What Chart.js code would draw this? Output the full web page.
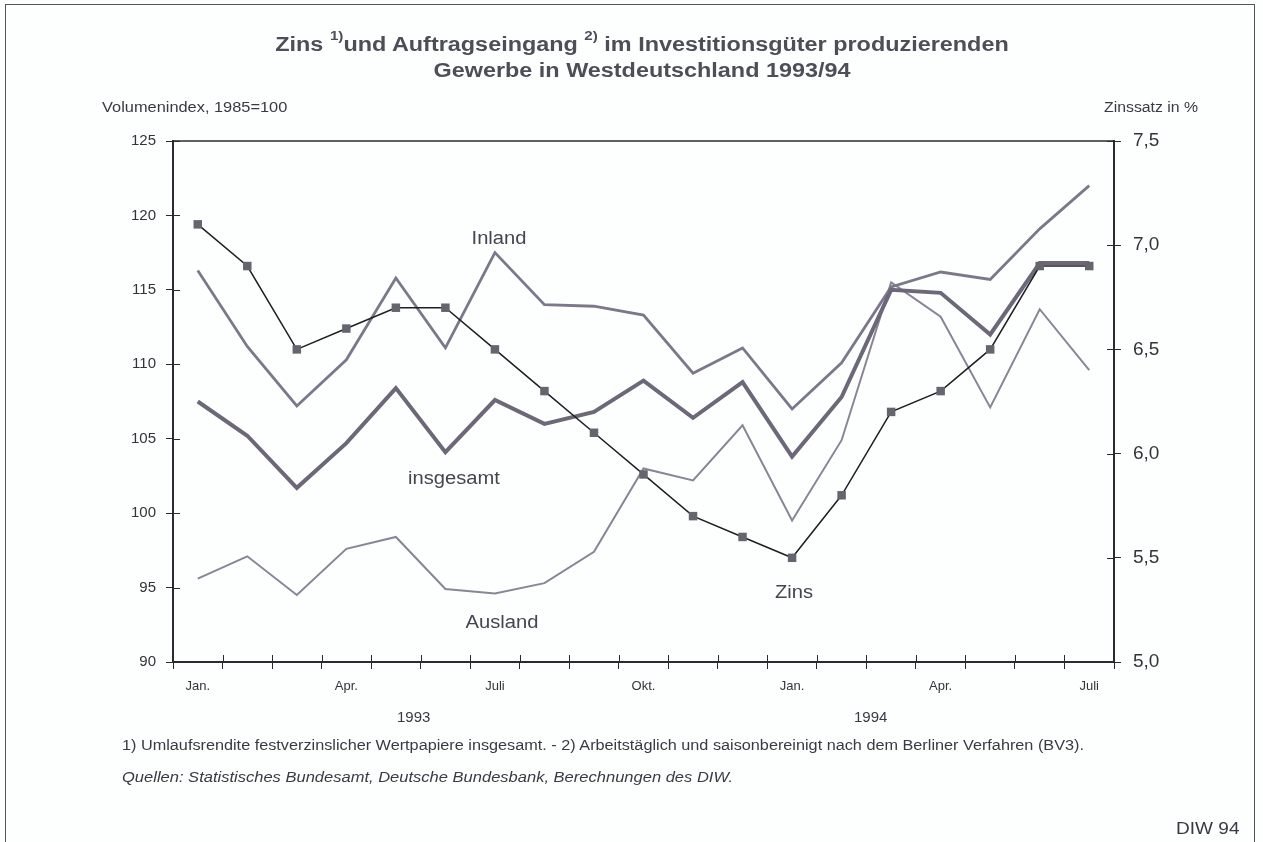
<!DOCTYPE html>
<html lang="de">
<head>
<meta charset="utf-8">
<title>Zins und Auftragseingang 1993/94</title>
<script src="https://cdn.jsdelivr.net/npm/chart.js@4.4.1/dist/chart.umd.min.js"></script>
<style>
  html, body { margin: 0; padding: 0; background: #fdfefe; }
  body { width: 1263px; height: 842px; position: relative; overflow: hidden;
         font-family: "Liberation Sans", Arial, sans-serif; color: #3a3a44; }
  #frame { position: absolute; left: 5px; top: 4px; width: 1248px; height: 860px;
           border: 1px solid #555; border-bottom: none; }
  #chart { position: absolute; left: 0; top: 0; }
  .txt { position: absolute; white-space: nowrap; }
  .wide { transform: scaleX(1.17); transform-origin: left center; }
  .title { left: 0; width: 1284px; text-align: center; font-weight: bold; font-size: 20px; color: #4e4e58;
           transform: scaleX(1.17); transform-origin: 642px center; }
  .title sup { font-size: 13px; position: relative; top: -3px; }
  .lbl { font-size: 18px; color: #45454f; transform: translate(-50%, -50%) scaleX(1.12); }
</style>
</head>
<body>
<div id="frame"></div>
<canvas id="chart" width="1263" height="842"></canvas>

<div class="txt title" style="top:31px">Zins <sup>1)</sup>und Auftragseingang <sup>2)</sup> im Investitionsgüter produzierenden</div>
<div class="txt title" style="top:59px">Gewerbe in Westdeutschland 1993/94</div>
<div class="txt wide" style="left:102px; top:99px; font-size:14px;">Volumenindex, 1985=100</div>
<div class="txt" style="left:1104px; top:99px; font-size:14px; transform:scaleX(1.13); transform-origin:left center;">Zinssatz in %</div>

<div class="txt lbl" style="left:499px; top:238px;">Inland</div>
<div class="txt lbl" style="left:454px; top:478px;">insgesamt</div>
<div class="txt lbl" style="left:502px; top:622px;">Ausland</div>
<div class="txt lbl" style="left:794px; top:592px;">Zins</div>

<div class="txt" style="left:397px; top:708px; font-size:15px;">1993</div>
<div class="txt" style="left:854px; top:708px; font-size:15px;">1994</div>

<div class="txt wide" style="left:122px; top:737px; font-size:14px; transform:scaleX(1.16);">1) Umlaufsrendite festverzinslicher Wertpapiere insgesamt. - 2) Arbeitstäglich und saisonbereinigt nach dem Berliner Verfahren (BV3).</div>
<div class="txt wide" style="left:122px; top:769px; font-size:14px; font-style:italic; transform:scaleX(1.18);">Quellen: Statistisches Bundesamt, Deutsche Bundesbank, Berechnungen des DIW.</div>
<div class="txt wide" style="left:1176px; top:819px; font-size:17px; transform:scaleX(1.12);">DIW 94</div>

<script>
// Monate Jan. 1993 bis Juli 1994
const months = ['Jan.', 'Feb.', 'März', 'Apr.', 'Mai', 'Juni', 'Juli', 'Aug.', 'Sept.', 'Okt.', 'Nov.', 'Dez.',
                'Jan.', 'Feb.', 'März', 'Apr.', 'Mai', 'Juni', 'Juli'];
// nur jedes Quartal beschriftet
const shownMonths = [0, 3, 6, 9, 12, 15, 18];

// Volumenindex 1985=100 (linke Achse)
const inland    = [116.3, 111.2, 107.2, 110.3, 115.8, 111.1, 117.5, 114.0, 113.9, 113.3, 109.4, 111.1,
                   107.0, 110.1, 115.2, 116.2, 115.7, 119.1, 122.0];
const insgesamt = [107.5, 105.2, 101.7, 104.7, 108.4, 104.1, 107.6, 106.0, 106.8, 108.9, 106.4, 108.8,
                   103.8, 107.8, 115.0, 114.8, 112.0, 116.8, 116.8];
const ausland   = [95.6, 97.1, 94.5, 97.6, 98.4, 94.9, 94.6, 95.3, 97.4, 103.0, 102.2, 105.9,
                   99.5, 104.9, 115.5, 113.2, 107.1, 113.7, 109.6];
// Umlaufsrendite in % (rechte Achse)
const zins      = [7.1, 6.9, 6.5, 6.6, 6.7, 6.7, 6.5, 6.3, 6.1, 5.9, 5.7, 5.6,
                   5.5, 5.8, 6.2, 6.3, 6.5, 6.9, 6.9];

const leftTicks  = [90, 95, 100, 105, 110, 115, 120, 125];
const rightTicks = [5.0, 5.5, 6.0, 6.5, 7.0, 7.5];

const AXIS = '#2a2a30';

// Striche, die durch die Achse hindurchgehen, und obere Rahmenlinie
const crossTicks = {
    id: 'crossTicks',
    afterDatasetsDraw(chart) {
        const { ctx, chartArea: a, scales } = chart;
        ctx.save();
        ctx.strokeStyle = AXIS;
        ctx.lineWidth = 1;
        ctx.beginPath();
        const x = scales.x;
        const step = x.getPixelForValue(1) - x.getPixelForValue(0);
        for (let i = 0; i <= months.length; i++) {
            const bx = Math.round(x.getPixelForValue(0) - step / 2 + i * step) + 0.5;
            ctx.moveTo(bx, a.bottom - 7);
            ctx.lineTo(bx, a.bottom);
        }
        leftTicks.forEach(v => {
            const py = Math.round(scales.y.getPixelForValue(v)) + 0.5;
            ctx.moveTo(a.left, py);
            ctx.lineTo(a.left + 7, py);
        });
        rightTicks.forEach(v => {
            const py = Math.round(scales.y1.getPixelForValue(v)) + 0.5;
            ctx.moveTo(a.right - 7, py);
            ctx.lineTo(a.right, py);
        });
        ctx.stroke();
        ctx.lineWidth = 1.5;
        ctx.beginPath();
        ctx.moveTo(a.left, a.top);
        ctx.lineTo(a.right, a.top);
        ctx.stroke();
        ctx.restore();
    }
};

new Chart(document.getElementById('chart'), {
    type: 'line',
    data: {
        labels: months,
        datasets: [
            {
                label: 'Zins', data: zins, yAxisID: 'y1',
                borderColor: '#1e1e24', borderWidth: 1.5,
                pointStyle: 'rect', pointRadius: 6, pointBackgroundColor: '#66656f',
                pointBorderColor: '#66656f', pointBorderWidth: 0
            },
            {
                label: 'insgesamt', data: insgesamt, yAxisID: 'y',
                borderColor: '#6d6879', borderWidth: 4, pointRadius: 0
            },
            {
                label: 'Inland', data: inland, yAxisID: 'y',
                borderColor: '#7c778a', borderWidth: 2.8, pointRadius: 0
            },
            {
                label: 'Ausland', data: ausland, yAxisID: 'y',
                borderColor: '#8a8596', borderWidth: 2, pointRadius: 0
            }
        ]
    },
    options: {
        responsive: false,
        animation: false,
        devicePixelRatio: 1,
        layout: { padding: { left: 113, right: 89, top: 141, bottom: 0 } },
        plugins: { legend: { display: false }, tooltip: { enabled: false } },
        elements: { line: { tension: 0, borderJoinStyle: 'miter' } },
        scales: {
            x: {
                offset: true,
                grid: { offset: true, drawOnChartArea: false, tickLength: 7, color: AXIS },
                border: { color: AXIS, width: 2 },
                ticks: {
                    autoSkip: false, maxRotation: 0, padding: 10, color: '#33333b',
                    font: { family: '"Liberation Sans", Arial', size: 13 },
                    callback: (v, i) => shownMonths.includes(i) ? months[i] : ''
                },
                afterFit: s => { s.height = 180; }
            },
            y: {
                position: 'left', min: 90, max: 125,
                afterBuildTicks: s => { s.ticks = leftTicks.map(v => ({ value: v })); },
                grid: { drawOnChartArea: false, tickLength: 7, color: AXIS },
                border: { color: AXIS, width: 2 },
                ticks: { padding: 10, color: '#33333b', font: { family: '"Liberation Sans", Arial', size: 15 } },
                afterFit: s => { s.width = 60; }
            },
            y1: {
                position: 'right', min: 5, max: 7.5,
                afterBuildTicks: s => { s.ticks = rightTicks.map(v => ({ value: v })); },
                grid: { drawOnChartArea: false, tickLength: 7, color: AXIS },
                border: { color: AXIS, width: 2 },
                ticks: {
                    padding: 12, color: '#33333b', font: { family: '"Liberation Sans", Arial', size: 19 },
                    callback: v => v.toFixed(1).replace('.', ',')
                },
                afterFit: s => { s.width = 60; }
            }
        }
    },
    plugins: [crossTicks]
});
</script>
</body>
</html>
